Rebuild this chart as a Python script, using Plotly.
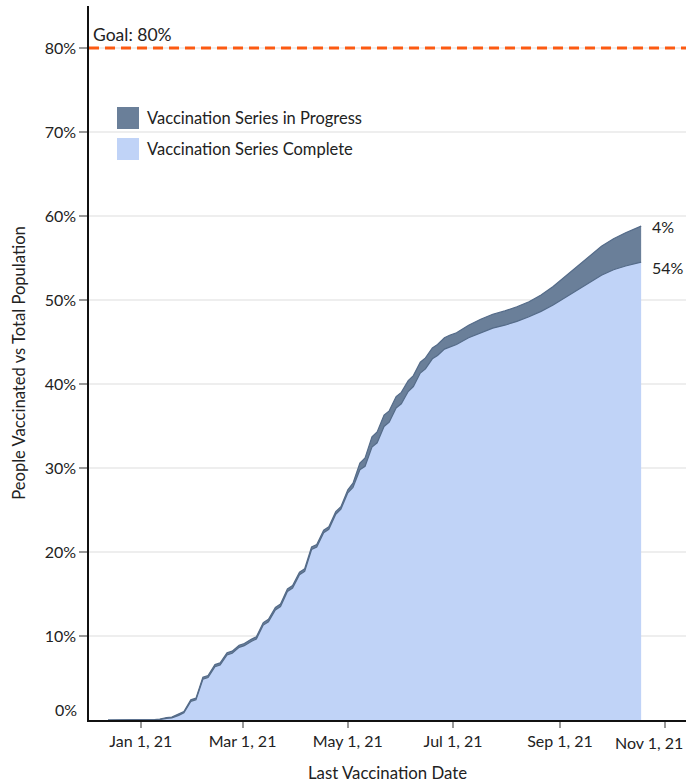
import plotly.graph_objects as go

dates = ["2020-12-13", "2020-12-20", "2020-12-27", "2021-01-02", "2021-01-05",
         "2021-01-09", "2021-01-12", "2021-01-16", "2021-01-19", "2021-01-23",
         "2021-01-26", "2021-01-30", "2021-02-02", "2021-02-06", "2021-02-09",
         "2021-02-13", "2021-02-16", "2021-02-20", "2021-02-23", "2021-02-27",
         "2021-03-02", "2021-03-06", "2021-03-09", "2021-03-13", "2021-03-16",
         "2021-03-20", "2021-03-23", "2021-03-27", "2021-03-30", "2021-04-03",
         "2021-04-06", "2021-04-10", "2021-04-13", "2021-04-17", "2021-04-20",
         "2021-04-24", "2021-04-27", "2021-05-01", "2021-05-04", "2021-05-08",
         "2021-05-11", "2021-05-15", "2021-05-18", "2021-05-22", "2021-05-25",
         "2021-05-29", "2021-06-01", "2021-06-05", "2021-06-08", "2021-06-12",
         "2021-06-15", "2021-06-19", "2021-06-22", "2021-06-26", "2021-06-29",
         "2021-07-03", "2021-07-10", "2021-07-17", "2021-07-24", "2021-07-31",
         "2021-08-07", "2021-08-14", "2021-08-21", "2021-08-28", "2021-09-04",
         "2021-09-11", "2021-09-18", "2021-09-25", "2021-10-02", "2021-10-09",
         "2021-10-18"]

complete = [0, 0, 0, 0, 0,
            0.02, 0.05, 0.2, 0.25, 0.55,
            0.85, 2.2, 2.4, 4.85, 5.05,
            6.35, 6.55, 7.75, 7.95, 8.65,
            8.85, 9.35, 9.65, 11.3, 11.7,
            13.1, 13.5, 15.3, 15.7, 17.3,
            17.7, 20.3, 20.6, 22.3, 22.7,
            24.5, 25.1, 27.05, 27.7, 29.8,
            30.2, 32.5, 33.0, 34.95, 35.45,
            37.15, 37.65, 39.1, 39.7, 41.3,
            41.8, 43.0, 43.4, 44.15, 44.4,
            44.7, 45.5, 46.1, 46.65, 47.0,
            47.45, 48.0, 48.65, 49.4, 50.3,
            51.2, 52.1, 52.95, 53.6, 54.05,
            54.5]

in_progress = [0, 0, 0, 0, 0,
               0.03, 0.05, 0.1, 0.1, 0.15,
               0.15, 0.2, 0.2, 0.25, 0.25,
               0.25, 0.25, 0.25, 0.25, 0.25,
               0.25, 0.25, 0.25, 0.3, 0.3,
               0.3, 0.3, 0.3, 0.3, 0.3,
               0.3, 0.3, 0.3, 0.3, 0.3,
               0.3, 0.3, 0.35, 0.5, 0.8,
               1.0, 1.2, 1.3, 1.35, 1.35,
               1.35, 1.35, 1.3, 1.3, 1.3,
               1.3, 1.3, 1.3, 1.35, 1.4,
               1.4, 1.5, 1.6, 1.65, 1.7,
               1.75, 1.8, 1.95, 2.2, 2.5,
               2.9, 3.2, 3.45, 3.7, 3.95,
               4.3]

series_names = ["Vaccination Series Complete", "Vaccination Series in Progress"]
end_labels = ["54%", "4%"]
goal_value = 80
goal_label = "Goal: 80%"
y_ticks = [10, 20, 30, 40, 50, 60, 70, 80]
y_tick_text = ["10%", "20%", "30%", "40%", "50%", "60%", "70%", "80%"]
x_ticks = ["2021-01-01", "2021-03-01", "2021-05-01", "2021-07-01", "2021-09-01", "2021-11-01"]
x_tick_text = ["Jan 1, 21", "Mar 1, 21", "May 1, 21", "Jul 1, 21", "Sep 1, 21", "Nov 1, 21"]

FONT = "Lato"
TXT = "#222222"
LIGHT = "#c0d3f7"
DARK = "#6a7f99"
EDGE = "#546b89"
ORANGE = "#fc5a12"

fig = go.Figure()
fig.add_trace(go.Scatter(x=dates, y=complete, name=series_names[0], mode="lines",
                         stackgroup="one", fillcolor=LIGHT,
                         line=dict(color=EDGE, width=1.2), showlegend=False,
                         hoverinfo="skip"))
fig.add_trace(go.Scatter(x=dates, y=in_progress, name=series_names[1], mode="lines",
                         stackgroup="one", fillcolor=DARK,
                         line=dict(color=EDGE, width=1.2), showlegend=False,
                         hoverinfo="skip"))

W, H = 686, 783
L, R, T, B = 89, 0, 6, 63
pw, ph = W - L - R, H - T - B


def px_x(p):
    return (p - L) / pw


def px_y(p):
    return (H - B - p) / ph


shapes = [
    dict(type="line", xref="paper", x0=0, x1=1, yref="y", y0=goal_value, y1=goal_value,
         line=dict(color=ORANGE, width=3, dash="10px,6px")),
    dict(type="rect", xref="paper", yref="paper", x0=px_x(117), x1=px_x(139),
         y0=px_y(129), y1=px_y(107), fillcolor=DARK, line=dict(width=0)),
    dict(type="rect", xref="paper", yref="paper", x0=px_x(117), x1=px_x(139),
         y0=px_y(160), y1=px_y(138), fillcolor=LIGHT, line=dict(width=0)),
]

annotations = [
    dict(text=series_names[1], xref="paper", yref="paper", x=px_x(145), y=px_y(118),
         xanchor="left", yanchor="middle", showarrow=False,
         font=dict(family=FONT, size=16.5, color=TXT)),
    dict(text=series_names[0], xref="paper", yref="paper", x=px_x(145), y=px_y(149),
         xanchor="left", yanchor="middle", showarrow=False,
         font=dict(family=FONT, size=16.5, color=TXT)),
    dict(text=goal_label, xref="paper", yref="y", x=px_x(91), y=goal_value,
         xanchor="left", yanchor="bottom", yshift=1, showarrow=False,
         font=dict(family=FONT, size=17.5, color=TXT)),
    dict(text=end_labels[1], x=dates[-1], y=complete[-1] + in_progress[-1],
         xanchor="left", yanchor="middle", xshift=9, showarrow=False,
         font=dict(family=FONT, size=16, color=TXT)),
    dict(text=end_labels[0], x=dates[-1], y=complete[-1],
         xanchor="left", yanchor="middle", xshift=9, yshift=-5, showarrow=False,
         font=dict(family=FONT, size=16, color=TXT)),
    dict(text="0%", xref="paper", yref="y", x=0, y=0, xanchor="right", yanchor="middle",
         xshift=-10, yshift=11, showarrow=False,
         font=dict(family=FONT, size=16, color=TXT)),
    # last x tick label, pulled inside the right edge as in the original
    dict(text=x_tick_text[-1], xref="paper", yref="paper", x=1, y=0,
         xanchor="right", yanchor="middle", yshift=-22, xshift=-1, showarrow=False,
         font=dict(family=FONT, size=16, color=TXT)),
]

fig.update_layout(
    width=W, height=H,
    margin=dict(l=L, r=R, t=T, b=B),
    paper_bgcolor="white", plot_bgcolor="white",
    font=dict(family=FONT, size=16, color=TXT),
    showlegend=False,
    shapes=shapes,
    annotations=annotations,
    xaxis=dict(
        range=["2020-12-02", "2021-11-13"],
        tickvals=x_ticks, ticktext=x_tick_text[:-1] + [""],
        ticks="outside", ticklen=6, tickcolor="#999", tickwidth=1.5,
        showgrid=False, showline=True, linecolor="#111", linewidth=2,
        zeroline=False,
        title=dict(text="Last Vaccination Date", standoff=19,
                   font=dict(family=FONT, size=16.8)),
        tickfont=dict(family=FONT, size=16),
    ),
    yaxis=dict(
        range=[0, 85],
        tickvals=y_ticks, ticktext=y_tick_text,
        ticks="outside", ticklen=8, tickcolor="#999", tickwidth=1.5,
        showgrid=True, gridcolor="#eeeeee", gridwidth=1.5,
        showline=True, linecolor="#111", linewidth=1.5,
        zeroline=False,
        title=dict(text="People Vaccinated vs Total Population", standoff=15,
                   font=dict(family=FONT, size=16.6)),
        tickfont=dict(family=FONT, size=16),
    ),
)

fig.write_html("out.html", config={"displayModeBar": False},
               post_script="document.body.style.margin='0';")
